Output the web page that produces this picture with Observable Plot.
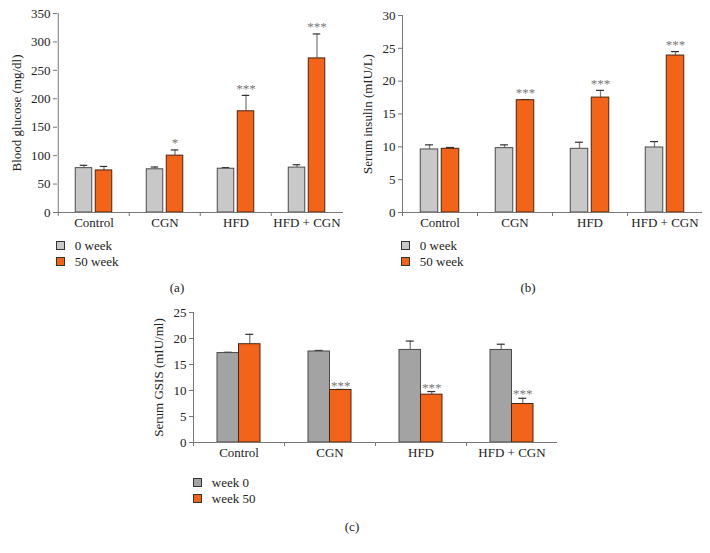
<!DOCTYPE html>
<html><head><meta charset="utf-8">
<script src="https://cdn.jsdelivr.net/npm/d3@7"></script>
<script src="https://cdn.jsdelivr.net/npm/@observablehq/plot@0.6"></script>
<style>
body{margin:0;background:#fff;}
#fig{position:relative;width:710px;height:553px;font-family:"Liberation Serif","Times New Roman",serif;font-size:13px;color:#222;overflow:hidden;}
.panel{position:absolute;}
.lg{position:absolute;font-size:13px;line-height:16px;white-space:nowrap;}
.sw{display:inline-block;width:7px;height:7px;border:1px solid #333;vertical-align:0px;}
.cap{position:absolute;font-size:13px;line-height:16px;transform:translateX(-50%);}
</style></head><body><div id="fig"></div>
<script>
const categories = ["Control", "CGN", "HFD", "HFD + CGN"];

const glucose0 = [78, 76, 77, 79];
const glucose0Err = [5, 4, 2, 5];
const glucose50 = [74, 100, 178, 271];
const glucose50Err = [7, 10, 28, 43];
const glucoseSig = ["", "*", "***", "***"];

const insulin0 = [9.6, 9.8, 9.7, 9.9];
const insulin0Err = [0.7, 0.5, 1.0, 0.9];
const insulin50 = [9.7, 17.1, 17.5, 23.9];
const insulin50Err = [0.2, 0.1, 1.1, 0.6];
const insulinSig = ["", "***", "***", "***"];

const gsis0 = [17.2, 17.5, 17.8, 17.8];
const gsis0Err = [0.15, 0.2, 1.7, 1.1];
const gsis50 = [18.9, 10.1, 9.2, 7.4];
const gsis50Err = [1.9, 0.1, 0.6, 1.1];
const gsisSig = ["", "***", "***", "***"];

const legendAB = ["0 week", "50 week"];
const legendC = ["week 0", "week 50"];

const ORANGE = "#f26419";
const fig = document.getElementById("fig");

function panel(o) {
  const bw = (o.width - o.ml - o.mr) / categories.length;
  const off = (o.barW + o.gap) / 2;
  const inset = (bw - o.barW) / 2;
  const capInset = (bw - 8) / 2;
  const rows = categories.flatMap((c, i) => [
    {cat: c, week: 0, v: o.v0[i], e: o.e0[i], sig: ""},
    {cat: c, week: 50, v: o.v50[i], e: o.e50[i], sig: o.sig[i]}
  ]);
  const marks = [];
  const groups = [
    [rows.filter(d => d.week === 0), -off, o.c0, "#4a4a4a"],
    [rows.filter(d => d.week === 50), off, ORANGE, "#4a2410"]
  ];
  for (const [data, dx, fill, stroke] of groups) {
    marks.push(Plot.ruleX(data, {x: "cat", y1: "v", y2: d => d.v + d.e, dx, stroke: "#808080", strokeWidth: 1.3}));
    marks.push(Plot.tickY(data, {x: "cat", y: d => d.v + d.e, dx, insetLeft: capInset, insetRight: capInset, stroke: "#333", strokeWidth: 1.2}));
    marks.push(Plot.barY(data, {x: "cat", y: "v", dx, insetLeft: inset, insetRight: inset, fill, stroke, strokeWidth: 1}));
  }
  marks.push(Plot.text(rows.filter(d => d.sig), {
    x: "cat", y: d => d.v + d.e, dx: off, dy: o.starDy, text: "sig",
    fill: "#777", fontSize: 13, lineAnchor: "middle"
  }));
  marks.push(Plot.ruleY([0], {stroke: "#777"}));
  marks.push(Plot.ruleX([categories[0]], {dx: -bw / 2, y1: 0, y2: o.yMax, stroke: "#777"}));
  marks.push(Plot.ruleX(categories, {x: d => d, dx: -bw / 2, y1: 0, y2: 0, insetBottom: -4, stroke: "#777"}));
  marks.push(Plot.axisY({
    ticks: d3.range(0, o.yMax + 0.001, o.step), tickSize: 4, tickPadding: 3,
    stroke: "#777", fill: "#222", fontSize: 13,
    label: o.yLabel, labelAnchor: "center", labelArrow: "none", labelOffset: o.labelOffset
  }));
  marks.push(Plot.axisX({tickSize: 0, tickPadding: 5, fill: "#222", fontSize: 13, label: null}));
  const svg = Plot.plot({
    width: o.width, height: o.height,
    marginLeft: o.ml, marginRight: o.mr, marginTop: o.mt, marginBottom: o.mb,
    style: {fontFamily: '"Liberation Serif","Times New Roman",serif', fontSize: "13px", color: "#222", background: "transparent", overflow: "visible"},
    x: {type: "band", domain: categories, padding: 0, label: null},
    y: {domain: [0, o.yMax], label: o.yLabel},
    marks
  });
  svg.classList.add("panel");
  svg.style.left = o.left + "px";
  svg.style.top = o.top + "px";
  fig.appendChild(svg);
}

function legend(labels, colors, left, top) {
  labels.forEach((t, i) => {
    const d = document.createElement("div");
    d.className = "lg";
    d.style.left = left + "px";
    d.style.top = (top + i * 16) + "px";
    const s = document.createElement("span");
    s.className = "sw";
    s.style.background = colors[i];
    d.appendChild(s);
    d.appendChild(document.createTextNode("\u00a0\u00a0\u00a0" + t));
    fig.appendChild(d);
  });
}
function caption(t, x, y) {
  const d = document.createElement("div");
  d.className = "cap";
  d.style.left = x + "px";
  d.style.top = (y - 8) + "px";
  d.textContent = t;
  fig.appendChild(d);
}

panel({left: 0, top: 0, width: 360, height: 235, ml: 57, mr: 17, mt: 13, mb: 23,
  v0: glucose0, e0: glucose0Err, v50: glucose50, e50: glucose50Err, sig: glucoseSig,
  yMax: 350, step: 50, yLabel: "Blood glucose (mg/dl)", labelOffset: 46,
  barW: 17, gap: 3, c0: "#c8c8c8", starDy: -7});
panel({left: 360, top: 0, width: 350, height: 235, ml: 42, mr: 8, mt: 15, mb: 23,
  v0: insulin0, e0: insulin0Err, v50: insulin50, e50: insulin50Err, sig: insulinSig,
  yMax: 30, step: 5, yLabel: "Serum insulin (mIU/L)", labelOffset: 40,
  barW: 17.5, gap: 3.5, c0: "#c8c8c8", starDy: -7});
panel({left: 140, top: 290, width: 420, height: 175, ml: 53, mr: 3, mt: 22, mb: 23,
  v0: gsis0, e0: gsis0Err, v50: gsis50, e50: gsis50Err, sig: gsisSig,
  yMax: 25, step: 5, yLabel: "Serum GSIS (mIU/ml)", labelOffset: 40,
  barW: 21.5, gap: 0, c0: "#a3a3a3", starDy: -4});

legend(legendAB, ["#c8c8c8", ORANGE], 56, 238);
legend(legendAB, ["#c8c8c8", ORANGE], 401, 238);
legend(legendC, ["#a3a3a3", ORANGE], 193, 475);
caption("(a)", 177, 288);
caption("(b)", 528, 288);
caption("(c)", 352, 527);
</script></body></html>
